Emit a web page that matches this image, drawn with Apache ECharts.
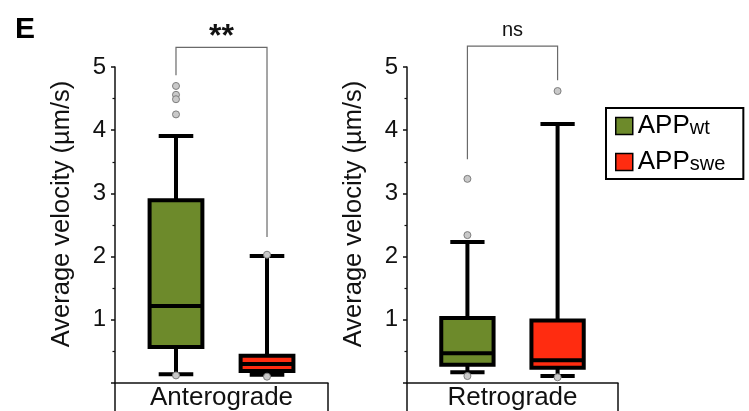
<!DOCTYPE html>
<html>
<head>
<meta charset="utf-8">
<script src="https://cdn.jsdelivr.net/npm/echarts@6/dist/echarts.min.js"></script>
<style>
  html, body { margin: 0; padding: 0; background: #fff; }
  #chart { width: 749px; height: 411px; }
</style>
</head>
<body>
<div id="chart"></div>
<script>
// Transport direction panels and genotypes
const panels = ['Anterograde', 'Retrograde'];
const groups = ['APPwt', 'APPswe'];
const groupPos = [1, 2];

// Box summaries: [lower whisker, Q1, median, Q3, upper whisker] (µm/s)
const anteroWt = [0.14, 0.57, 1.22, 2.89, 3.91];
const anteroSwe = [0.13, 0.19, 0.30, 0.43, 2.01];
const retroWt = [0.17, 0.29, 0.47, 1.03, 2.23];
const retroSwe = [0.11, 0.24, 0.36, 0.99, 4.10];

// Individual outlying values (µm/s)
const anteroWtOutliers = [4.70, 4.56, 4.49, 4.25, 0.12];
const anteroSweOutliers = [2.03, 0.10];
const retroWtOutliers = [3.23, 2.34, 0.11];
const retroSweOutliers = [4.62, 0.09];

// Significance brackets: [bar height, left leg end, right leg end]
const anteroBracket = [5.31, 4.87, 2.31];
const retroBracket = [5.33, 3.54, 4.79];
const sigLabels = ['**', 'ns'];

// y-axis scale
const yMin = 0, yMax = 5, yStep = 1;

const colors = { APPwt: '#6d8a2b', APPswe: '#ff2c10' };
const FONT = '"Liberation Sans", Arial, Helvetica, sans-serif';
const BOX_HALF = 0.29;   // half box width, in x units
const CAP_HALF = 0.19;   // half whisker-cap width, in x units

const gridBoxes = [
  { left: 115, right: 421, top: 67, bottom: 25 },
  { left: 407, right: 131, top: 67, bottom: 25 }
];

function renderBox(params, api) {
  const x = api.value(0);
  const low = api.value(1), q1 = api.value(2), med = api.value(3),
        q3 = api.value(4), high = api.value(5);
  const c = (xx, yy) => api.coord([xx, yy]);
  const stroke = { stroke: '#000', lineWidth: 4, lineCap: 'butt' };
  const seg = (a, b) => ({
    type: 'line',
    shape: { x1: a[0], y1: a[1], x2: b[0], y2: b[1] },
    style: stroke
  });
  const tl = c(x - BOX_HALF, q3), br = c(x + BOX_HALF, q1);
  return {
    type: 'group',
    children: [
      seg(c(x, high), c(x, q3)),
      seg(c(x, q1), c(x, low)),
      seg(c(x - CAP_HALF, high), c(x + CAP_HALF, high)),
      seg(c(x - CAP_HALF, low), c(x + CAP_HALF, low)),
      {
        type: 'rect',
        shape: { x: tl[0], y: tl[1], width: br[0] - tl[0], height: br[1] - tl[1] },
        style: { fill: api.visual('color'), stroke: '#000', lineWidth: 4 }
      },
      seg(c(x - BOX_HALF, med), c(x + BOX_HALF, med))
    ]
  };
}

function makeBracketRenderer(label) {
  return function (params, api) {
    const x1 = api.value(0), x2 = api.value(1);
    const top = api.value(2), legL = api.value(3), legR = api.value(4);
    const p1 = api.coord([x1, legL]), p2 = api.coord([x1, top]);
    const p3 = api.coord([x2, top]), p4 = api.coord([x2, legR]);
    const bold = label === '**';
    return {
      type: 'group',
      children: [
        {
          type: 'polyline',
          shape: { points: [p1, p2, p3, p4] },
          style: { stroke: '#6a6a6a', lineWidth: 1.2, fill: null }
        },
        {
          type: 'text',
          style: {
            text: label,
            x: (p2[0] + p3[0]) / 2,
            y: p2[1] + (bold ? -10 : -16),
            align: 'center',
            verticalAlign: 'middle',
            font: (bold ? 'bold 32px ' : '20px ') + FONT,
            fill: '#111'
          }
        }
      ]
    };
  };
}

const boxData = [[anteroWt, anteroSwe], [retroWt, retroSwe]];
const outlierData = [[anteroWtOutliers, anteroSweOutliers], [retroWtOutliers, retroSweOutliers]];
const bracketData = [anteroBracket, retroBracket];

const grid = gridBoxes.map(g => Object.assign({ containLabel: false }, g));

const xAxis = [];
const yAxis = [];
panels.forEach((panel, i) => {
  // hidden value axis that places the boxes
  xAxis.push({
    type: 'value', gridIndex: i, min: 0.33, max: 2.67, show: false, position: 'bottom'
  });
  // boxed panel caption under the plot
  xAxis.push({
    type: 'category', gridIndex: i, position: 'bottom', data: [panel],
    boundaryGap: true,
    axisLine: { show: true, lineStyle: { color: '#111', width: 1.5 } },
    axisTick: { show: true, length: 40, lineStyle: { color: '#111', width: 1.5 } },
    axisLabel: { fontSize: 26, fontFamily: FONT, color: '#111', margin: 2 },
    splitLine: { show: false }
  });
  yAxis.push({
    type: 'value', gridIndex: i, min: yMin, max: yMax, interval: yStep,
    name: 'Average velocity (µm/s)', nameLocation: 'middle', nameGap: 40,
    nameTextStyle: { fontSize: 25.5, fontFamily: FONT, color: '#111', padding: [0, 0, 0, 22] },
    axisLine: { show: true, lineStyle: { color: '#111', width: 1.5 } },
    axisTick: { show: true, length: 4, lineStyle: { color: '#111', width: 1.5 } },
    minorTick: { show: true, splitNumber: 2, length: 2.5, lineStyle: { color: '#111', width: 1.2 } },
    axisLabel: { fontSize: 24, fontFamily: FONT, color: '#111', margin: 9, showMinLabel: false },
    splitLine: { show: false }
  });
});

const series = [];
panels.forEach((panel, i) => {
  groups.forEach((g, j) => {
    series.push({
      name: g,
      type: 'custom',
      xAxisIndex: i * 2,
      yAxisIndex: i,
      itemStyle: { color: colors[g] },
      renderItem: renderBox,
      encode: { x: 0, y: [1, 2, 3, 4, 5] },
      data: [[groupPos[j]].concat(boxData[i][j])],
      z: 2,
      silent: true
    });
    series.push({
      name: g + ' outliers',
      type: 'scatter',
      xAxisIndex: i * 2,
      yAxisIndex: i,
      symbol: 'circle',
      symbolSize: 7,
      itemStyle: { color: '#c9c9c9', borderColor: '#7d7d7d', borderWidth: 1, opacity: 1 },
      data: outlierData[i][j].map(v => [groupPos[j], v]),
      z: 5,
      silent: true
    });
  });
  series.push({
    name: panel + ' significance',
    type: 'custom',
    xAxisIndex: i * 2,
    yAxisIndex: i,
    renderItem: makeBracketRenderer(sigLabels[i]),
    encode: { x: [0, 1], y: [2, 3, 4] },
    data: [[groupPos[0], groupPos[1]].concat(bracketData[i])],
    clip: false,
    z: 3,
    silent: true
  });
});

const chart = echarts.init(document.getElementById('chart'), null, { renderer: 'canvas' });
chart.setOption({
  animation: false,
  backgroundColor: '#fff',
  textStyle: { fontFamily: FONT },
  title: {
    text: 'E', left: 15, top: 15, padding: 0,
    textStyle: { fontSize: 30, fontWeight: 'bold', color: '#000', fontFamily: FONT }
  },
  legend: {
    data: groups,
    orient: 'vertical',
    left: 606, top: 108,
    padding: [5, 18, 4, 9],
    itemGap: 10,
    itemWidth: 17, itemHeight: 17,
    icon: 'rect',
    selectedMode: false,
    borderColor: '#000', borderWidth: 2,
    itemStyle: { borderColor: '#000', borderWidth: 1.5 },
    formatter: name => '{m|APP}{s|' + name.slice(3) + '}',
    textStyle: {
      color: '#000',
      rich: {
        m: { fontSize: 26, fontFamily: FONT, color: '#000' },
        s: { fontSize: 20, fontFamily: FONT, color: '#000', padding: [5, 0, 0, 0] }
      }
    }
  },
  grid: grid,
  xAxis: xAxis,
  yAxis: yAxis,
  series: series
});
</script>
</body>
</html>
